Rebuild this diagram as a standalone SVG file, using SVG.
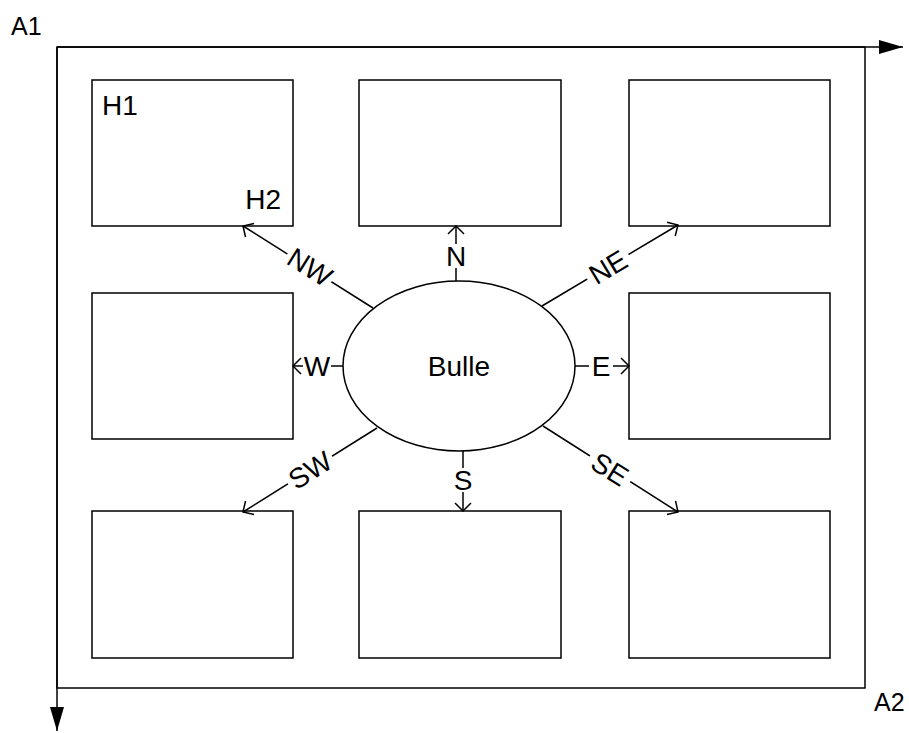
<svg xmlns="http://www.w3.org/2000/svg" width="909" height="733" viewBox="0 0 909 733">
<style>
  .box { fill: #fff; stroke: #000; stroke-width: 1.5; }
  .ln { fill: none; stroke: #000; stroke-width: 1.5; }
  .t { font-family: "Liberation Sans", Arial, sans-serif; font-size: 28px; fill: #000; }
  .ta { font-family: "Liberation Sans", Arial, sans-serif; font-size: 25px; fill: #000; }
  .gap { fill: #fff; stroke: none; }
</style>
<defs>
  <marker id="open" markerUnits="userSpaceOnUse" markerWidth="20" markerHeight="20" refX="0" refY="0" viewBox="-10 -10 20 20" orient="auto" overflow="visible">
    <path d="M-8,-8 L0,0 L-8,8" fill="none" stroke="#000" stroke-width="1.5"/>
  </marker>
  <marker id="solid" markerUnits="userSpaceOnUse" markerWidth="30" markerHeight="20" refX="0" refY="0" viewBox="-26 -10 30 20" orient="auto" overflow="visible">
    <path d="M-24,-7 L0,0 L-24,7 Z" fill="#000" stroke="none"/>
  </marker>
</defs>
<rect width="909" height="733" fill="#fff"/>

<g id="frame">
  <rect class="ln" x="57" y="47" width="808" height="641"/>
  <text class="ta" x="11" y="35">A1</text>
  <text class="ta" x="874" y="711">A2</text>
</g>

<g id="box-nw">
  <rect class="box" x="92" y="80" width="201" height="146"/>
  <text class="t" x="102" y="115">H1</text>
  <text class="t" x="281" y="209" text-anchor="end">H2</text>
</g>
<g id="box-n"><rect class="box" x="359" y="80" width="202" height="146"/></g>
<g id="box-ne"><rect class="box" x="629" y="80" width="201" height="146"/></g>
<g id="box-w"><rect class="box" x="92" y="293" width="201" height="146"/></g>
<g id="box-e"><rect class="box" x="629" y="293" width="201" height="146"/></g>
<g id="box-sw"><rect class="box" x="92" y="511" width="201" height="147"/></g>
<g id="box-s"><rect class="box" x="359" y="511" width="202" height="147"/></g>
<g id="box-se"><rect class="box" x="629" y="511" width="201" height="147"/></g>

<g id="bulle">
  <ellipse class="box" cx="459" cy="366" rx="116" ry="85"/>
  <text class="t" x="459" y="376" text-anchor="middle">Bulle</text>
</g>

<g id="connectors">
  <line class="ln" x1="57" y1="47" x2="903" y2="47" marker-end="url(#solid)"/>
  <line class="ln" x1="57" y1="47" x2="57" y2="731" marker-end="url(#solid)"/>

  <line class="ln" x1="456" y1="281" x2="456" y2="226" marker-end="url(#open)"/>
  <line class="ln" x1="463" y1="451" x2="463" y2="511" marker-end="url(#open)"/>
  <line class="ln" x1="343" y1="366" x2="293" y2="366" marker-end="url(#open)"/>
  <line class="ln" x1="575" y1="366" x2="629" y2="366" marker-end="url(#open)"/>
  <line class="ln" x1="373" y1="308" x2="243" y2="226" marker-end="url(#open)"/>
  <line class="ln" x1="542" y1="306" x2="678" y2="225" marker-end="url(#open)"/>
  <line class="ln" x1="377" y1="428" x2="243" y2="512" marker-end="url(#open)"/>
  <line class="ln" x1="543" y1="426" x2="678" y2="512" marker-end="url(#open)"/>

  <g transform="translate(456,256)"><rect class="gap" x="-11" y="-12" width="22" height="24"/><text class="t" x="0" y="10" text-anchor="middle">N</text></g>
  <g transform="translate(463,480)"><rect class="gap" x="-11" y="-12" width="22" height="24"/><text class="t" x="0" y="10" text-anchor="middle">S</text></g>
  <g transform="translate(317,366)"><rect class="gap" x="-14" y="-4" width="28" height="8"/><text class="t" x="0" y="10" text-anchor="middle">W</text></g>
  <g transform="translate(601,366)"><rect class="gap" x="-12" y="-4" width="24" height="8"/><text class="t" x="0" y="10" text-anchor="middle">E</text></g>
  <g transform="translate(310,267) rotate(32)"><rect class="gap" x="-26" y="-4" width="52" height="8"/><text class="t" x="0" y="10" text-anchor="middle">NW</text></g>
  <g transform="translate(608,267) rotate(-31)"><rect class="gap" x="-24" y="-4" width="48" height="8"/><text class="t" x="0" y="10" text-anchor="middle">NE</text></g>
  <g transform="translate(310,470) rotate(-32)"><rect class="gap" x="-26" y="-4" width="52" height="8"/><text class="t" x="0" y="10" text-anchor="middle">SW</text></g>
  <g transform="translate(610,469) rotate(32)"><rect class="gap" x="-24" y="-4" width="48" height="8"/><text class="t" x="0" y="10" text-anchor="middle">SE</text></g>
</g>
</svg>
